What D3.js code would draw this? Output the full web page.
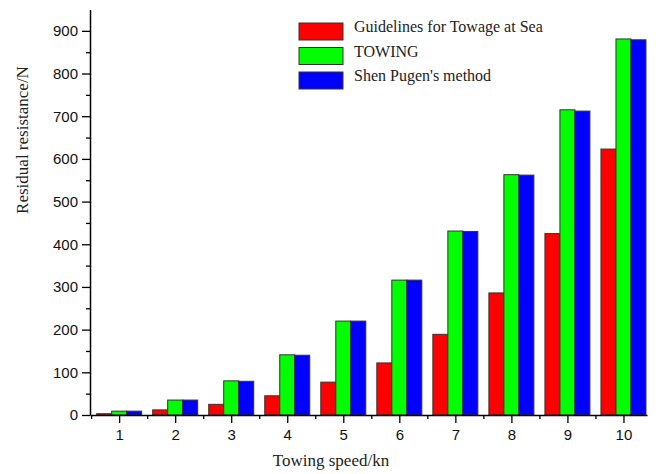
<!DOCTYPE html>
<html>
<head>
<meta charset="utf-8">
<script src="https://cdn.jsdelivr.net/npm/d3@7"></script>
<style>
html,body{margin:0;padding:0;background:#fff;}
svg{display:block;}
</style>
</head>
<body>
<svg id="chart" width="656" height="474"></svg>
<script>
const categories = [1, 2, 3, 4, 5, 6, 7, 8, 9, 10];
const seriesNames = ["Guidelines for Towage at Sea", "TOWING", "Shen Pugen's method"];
const guidelines = [3, 12, 25, 45, 77, 122, 189, 286, 425, 623];
const towing = [9, 35, 80, 141, 220, 316, 431, 563, 715, 881];
const shenPugen = [9, 35, 79, 140, 220, 316, 430, 562, 712, 879];
const colors = ["#ff0000", "#00ff00", "#0000ff"];
const yTicks = [0, 100, 200, 300, 400, 500, 600, 700, 800, 900];
const xLabel = "Towing speed/kn";
const yLabel = "Residual resistance/N";

const seriesValues = [guidelines, towing, shenPugen];

const svg = d3.select("#chart");
const x = d3.scaleLinear().domain([0.48, 10.42]).range([90, 647]);
const y = d3.scaleLinear().domain([0, 950]).range([415, 9.5]);
const inner = d3.scaleBand().domain(seriesNames).range([-22.5, 22.5]);

// bars
seriesNames.forEach((name, si) => {
  svg.append("g").selectAll("rect")
    .data(categories.map((c, i) => ({c, v: seriesValues[si][i]})))
    .join("rect")
    .attr("x", d => x(d.c) + inner(name))
    .attr("width", inner.bandwidth())
    .attr("y", d => y(d.v))
    .attr("height", d => y(0) - y(d.v))
    .attr("fill", colors[si])
    .attr("stroke", "#333")
    .attr("stroke-width", 1);
});

// Y axis
const yAxis = svg.append("g").attr("transform", "translate(90,0)");
yAxis.call(d3.axisLeft(y).tickValues(yTicks).tickSize(8).tickSizeOuter(0).tickPadding(4));
yAxis.append("g").call(d3.axisLeft(y).tickValues(d3.range(50, 950, 100)).tickSize(4).tickFormat(""))
  .select(".domain").remove();
yAxis.selectAll(".domain").attr("stroke", "#000").attr("stroke-width", 1.5);
yAxis.selectAll(".tick line").attr("stroke", "#000").attr("stroke-width", 1.3);
yAxis.selectAll(".tick text").attr("font-family", "Liberation Sans, Arial, sans-serif")
  .attr("font-size", 15).attr("fill", "#111");

// X axis
const xAxis = svg.append("g").attr("transform", "translate(0,415)");
xAxis.call(d3.axisBottom(x).tickValues(categories).tickSize(8).tickSizeOuter(0).tickPadding(6).tickFormat(d3.format("d")));
xAxis.append("g").call(d3.axisBottom(x).tickValues(d3.range(0.5, 10.5, 1)).tickSize(4).tickFormat(""))
  .select(".domain").remove();
xAxis.selectAll(".domain").attr("stroke", "#000").attr("stroke-width", 1.5);
xAxis.selectAll(".tick line").attr("stroke", "#000").attr("stroke-width", 1.3);
xAxis.selectAll(".tick text").attr("font-family", "Liberation Sans, Arial, sans-serif")
  .attr("font-size", 15).attr("fill", "#111");

// axis titles
svg.append("text")
  .attr("x", 331).attr("y", 466)
  .attr("text-anchor", "middle")
  .attr("font-family", "Liberation Serif, Times New Roman, serif")
  .attr("font-size", 17).attr("fill", "#222")
  .text(xLabel);
svg.append("text")
  .attr("transform", "translate(28,140) rotate(-90)")
  .attr("text-anchor", "middle")
  .attr("font-family", "Liberation Serif, Times New Roman, serif")
  .attr("font-size", 17).attr("fill", "#222")
  .text(yLabel);

// legend
const legend = svg.append("g").attr("transform", "translate(299,23)");
seriesNames.forEach((name, i) => {
  const g = legend.append("g").attr("transform", `translate(0,${i * 24.5})`);
  g.append("rect").attr("width", 44).attr("height", 17)
    .attr("fill", colors[i]).attr("stroke", "#333").attr("stroke-width", 1);
  g.append("text").attr("x", 55).attr("y", 9)
    .attr("font-family", "Liberation Serif, Times New Roman, serif")
    .attr("font-size", 16).attr("fill", "#222")
    .text(name);
});
</script>
</body>
</html>
